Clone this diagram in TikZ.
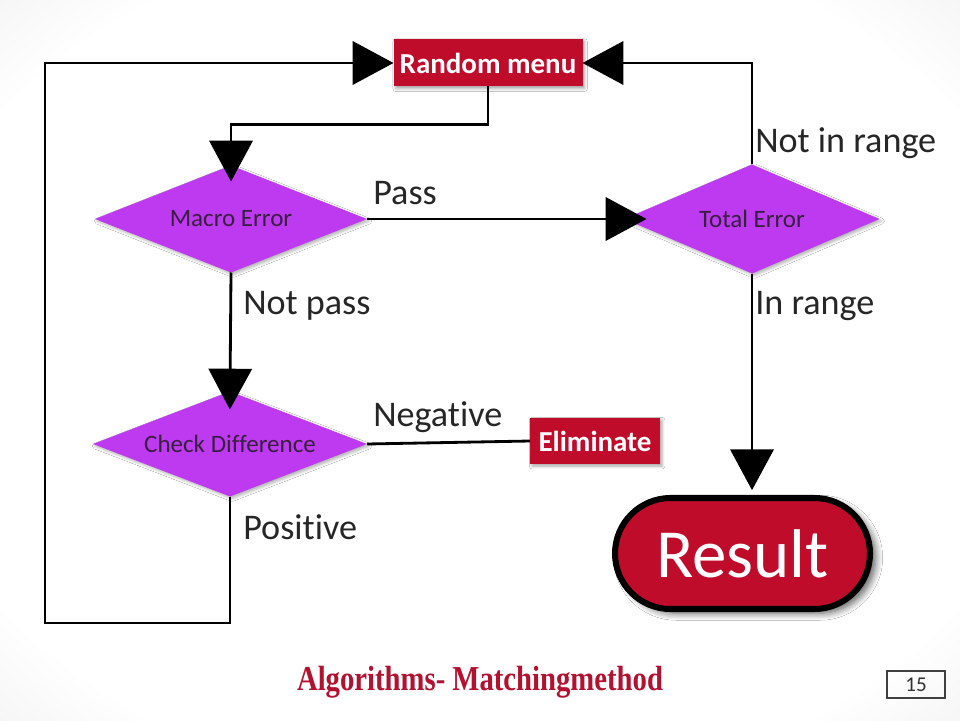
\documentclass[tikz,border=0pt]{standalone}
\usepackage{fontspec}
\setmainfont{Carlito}[Ligatures=NoCommon]
\newfontfamily\captionfont{Liberation Serif}
\usetikzlibrary{arrows.meta, shapes.geometric, shadows.blur}
\definecolor{menured}{RGB}{192,12,43}
\definecolor{footred}{RGB}{178,18,48}
\definecolor{lilac}{RGB}{190,58,240}
\definecolor{plumtext}{RGB}{58,30,66}
\definecolor{labelgray}{RGB}{38,38,38}
\pgfdeclareradialshading{slidebg}{\pgfpoint{0bp}{0bp}}{color(0bp)=(white); color(30bp)=(white); color(50bp)=(black!13)}

\begin{document}
\begin{tikzpicture}[
  decision/.style={diamond, fill=lilac, text=plumtext, inner sep=0pt, outer sep=0pt, aspect=2.5,
    font=\fontsize{17.8}{20}\selectfont,
    blur shadow={shadow xshift=1.5pt, shadow yshift=-1.5pt, shadow blur radius=2pt, shadow opacity=30}},
  redbox/.style={rectangle, fill=menured, text=white, inner sep=0pt, outer sep=0pt,
    font=\bfseries\fontsize{20.6}{24}\selectfont,
    blur shadow={shadow xshift=1.5pt, shadow yshift=-1.5pt, shadow blur radius=2pt, shadow opacity=35}},
  lbl/.style={anchor=base west, text=labelgray, inner sep=0pt, font=\fontsize{25.7}{30}\selectfont},
  flow/.style={line width=2pt, -{Triangle[length=1.02cm, width=1.08cm]}},
  link/.style={line width=2pt}
]
\shade[shading=slidebg] (0,0) rectangle (24,18);
\useasboundingbox (0,0) rectangle (24,18);

% boxes and decisions
\node[redbox, minimum width=4.725cm, minimum height=1.175cm] (menu) at (12.2,16.425) {Random menu};
\node[decision, minimum width=6.8cm, minimum height=2.675cm] (macro) at (5.775,12.525) {Macro Error};
\node[decision, minimum width=6.375cm, minimum height=2.725cm] (total) at (18.8,12.525) {Total Error};
\node[decision, minimum width=6.85cm, minimum height=2.625cm] (check) at (5.75,6.9) {Check Difference};
\node[redbox, minimum width=3.25cm, minimum height=1.15cm] (elim) at (14.875,6.975) {Eliminate};
\node[rectangle, rounded corners=1.39cm, draw=black, line width=4.3pt, fill=menured, text=white,
  minimum width=6.375cm, minimum height=2.775cm, font=\fontsize{49}{55}\selectfont,
  blur shadow={shadow xshift=4pt, shadow yshift=-3pt, shadow blur radius=5pt, shadow blur steps=8, shadow opacity=65}]
  (result) at (18.5625,4.1625) {Result};

% branch labels
\node[lbl] (pass) at (9.325,12.9) {Pass};
\node[lbl] (notinrange) at (18.875,14.175) {Not in range};
\node[lbl] (inrange) at (18.875,10.15) {In range};
\node[lbl] (notpass) at (6.075,10.15) {Not pass};
\node[lbl] (negative) at (9.325,7.35) {Negative};
\node[lbl] (positive) at (6.075,4.525) {Positive};

% connectors
\coordinate (loopcorner) at (1.125,2.425);
\draw[flow, shorten >=-0.4cm] (menu.south) -- ++(0,-0.95) -| (macro.north);
\draw[flow, shorten >=-0.55cm] (macro.east) -- (total.west);
\draw[flow, shorten >=-0.45cm] (macro.south) -- (check.north);
\draw[link] (check.east) -- (elim.west);
\draw[flow] (total.north) |- (menu.east);
\draw[flow, shorten >=0.12cm] (total.south) -- (total.south |- result.north);
\draw[flow] (check.south) |- (loopcorner) |- (menu.west);

% footer
\node[anchor=base, text=footred, inner sep=0pt, font=\captionfont\bfseries\fontsize{24.9}{28}\selectfont]
  (caption) at (12,0.75) {\scalebox{0.82}[1]{Algorithms- Matchingmethod}};
\node[draw=black!75, line width=1.2pt, minimum width=1.45cm, minimum height=0.675cm, inner sep=0pt,
  text=black!80, font=\fontsize{15}{18}\selectfont] (pagenum) at (22.9,0.8875) {15};
\end{tikzpicture}
\end{document}
